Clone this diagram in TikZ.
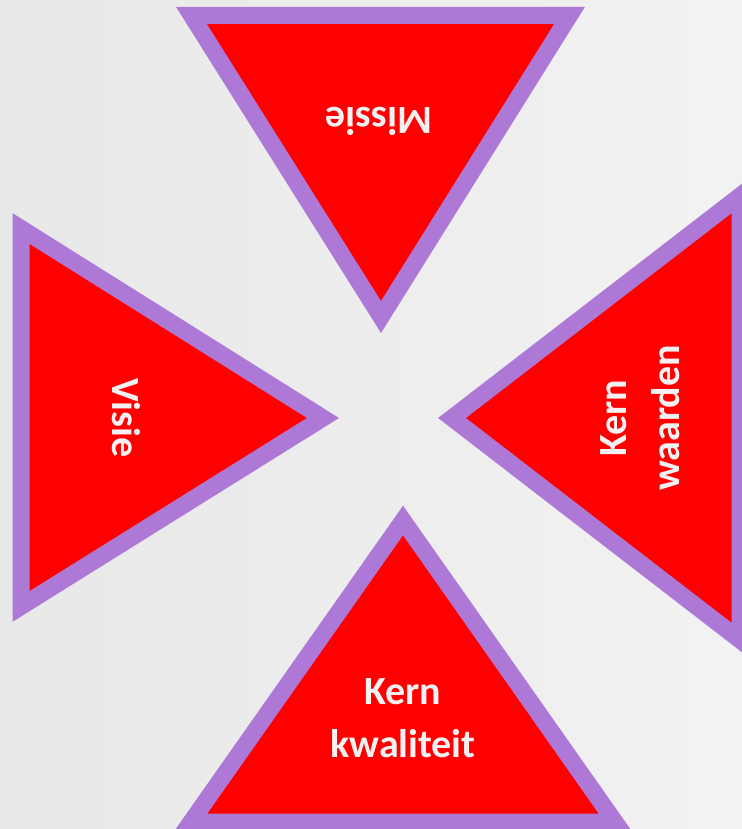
\documentclass[tikz,border=0pt]{standalone}
\usepackage{fontspec}
\setmainfont{Carlito}
\usetikzlibrary{positioning}

\definecolor{vakrood}{RGB}{255,0,0}
\definecolor{vakrand}{RGB}{173,120,214}
\tikzset{
  vak/.style={draw=vakrand, fill=vakrood, line width=8.5pt, line join=miter},
  vaktekst/.style={text=black!5, align=center, font=\bfseries\fontsize{20}{26.5}\selectfont}
}

\begin{document}
\begin{tikzpicture}[x=0.5pt, y=-0.5pt]
                \useasboundingbox (0,0) rectangle (742,829);
                % Background
                \shade[left color=black!9, right color=black!5] (0,0) rectangle (742,829);

                \begin{scope}
                \clip (0,0) rectangle (742,829);
                % Triangles
                \draw[vak] (191.5,15.5) -- (569.5,15.5) -- (381,317) -- cycle;
                \draw[vak] (21,228.5) -- (21,606.5) -- (323,418) -- cycle;
                \draw[vak] (452,418) -- (740,196) -- (740,640) -- cycle;
                \draw[vak] (403,520.5) -- (615,822) -- (191,822) -- cycle;
                \end{scope}

                % Labels
                \node (missie) [vaktekst, rotate=180] at (379,121) {Missie};
                \node (visie) [vaktekst, rotate=-90] at (126,418) {Visie};
                \node (waarden) [vaktekst, rotate=90] at (640,418) {Kern\\waarden};
                \node (kwaliteit) [vaktekst] at (403,718) {Kern\\kwaliteit};
            \end{tikzpicture}
\end{document}
